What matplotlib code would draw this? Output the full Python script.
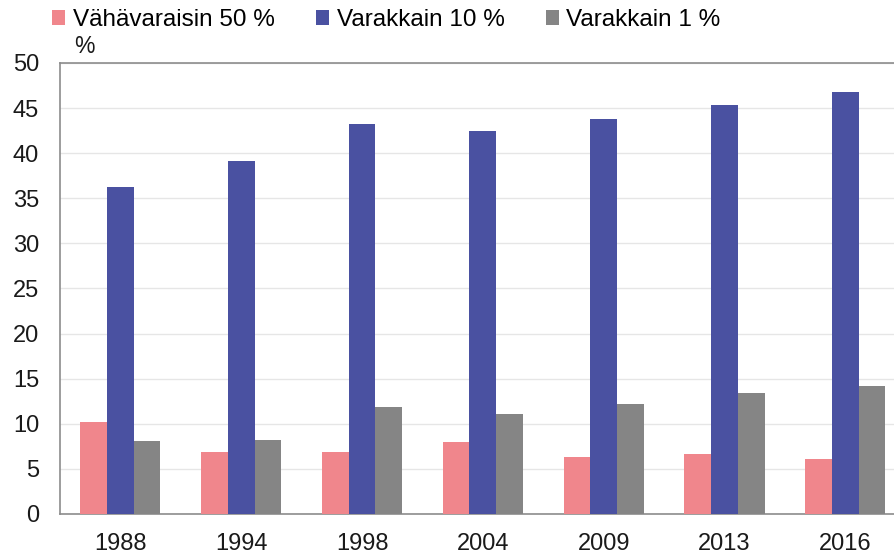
import matplotlib
matplotlib.use("Agg")
import matplotlib.pyplot as plt
import numpy as np

plt.rcParams['font.family'] = ['Liberation Sans', 'DejaVu Sans']

# data
years = ['1988', '1994', '1998', '2004', '2009', '2013', '2016']
bottom50 = [10.2, 6.9, 6.9, 8.0, 6.3, 6.6, 6.1]
top10 = [36.2, 39.1, 43.2, 42.5, 43.8, 45.3, 46.8]
top1 = [8.1, 8.2, 11.9, 11.1, 12.2, 13.4, 14.2]

series_names = ['Vähävaraisin 50 %', 'Varakkain 10 %', 'Varakkain 1 %']
colors = ['#F0868C', '#4A51A1', '#858585']

fig = plt.figure(figsize=(8.94, 5.55), dpi=100)
ax = fig.add_axes([0.0671, 0.0739, 0.946, 0.8126])

x = np.arange(len(years))
w = 0.221
bars = []
for i, (vals, name, c) in enumerate(zip([bottom50, top10, top1], series_names, colors)):
    b = ax.bar(x + (i - 1) * w, vals, width=w, color=c, label=name, zorder=3)
    bars.append(b)

ax.set_xlim(-0.5, len(years) - 0.5)
ax.set_ylim(0, 50)
ax.set_yticks(np.arange(0, 51, 5))
ax.set_xticks(x)
ax.set_xticklabels(years)
ax.tick_params(axis='both', length=0, labelsize=17, colors='#1a1a1a')
ax.tick_params(axis='y', pad=15)
ax.tick_params(axis='x', pad=14)
ax.grid(axis='y', color='#e6e6e6', linewidth=1, zorder=0)
for s in ['left', 'bottom', 'top']:
    ax.spines[s].set_color('#8c8c8c')
    ax.spines[s].set_linewidth(1.2)
ax.spines['right'].set_visible(False)

fig.text(0.083, 0.895, '%', fontsize=16.5, color='#1a1a1a', ha='left', va='bottom')

fig.legend(handles=bars, labels=series_names, loc='upper left',
           bbox_to_anchor=(0.042, 1.01), ncol=3, frameon=False, fontsize=17.5,
           handlelength=0.55, handleheight=0.55, handletextpad=0.3,
           columnspacing=1.7, borderaxespad=0.2)

fig.savefig('out.png', dpi=100)
